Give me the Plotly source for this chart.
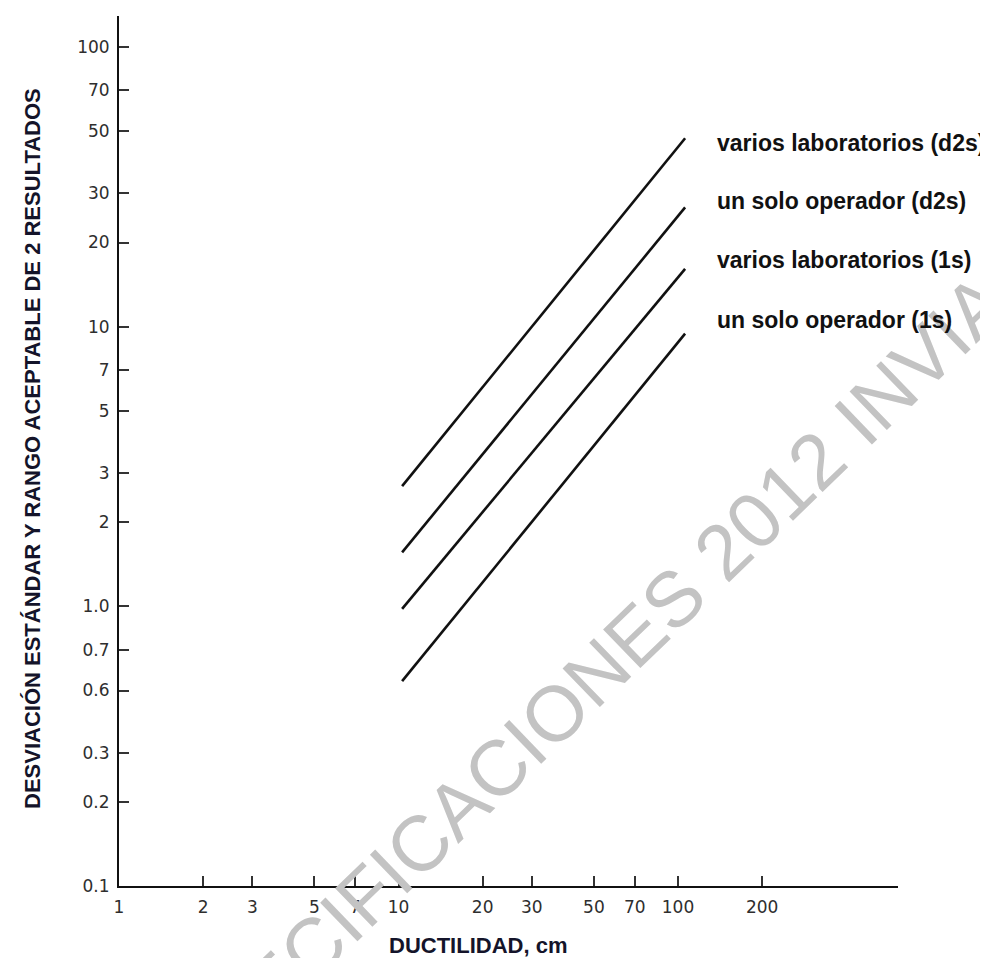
import plotly.graph_objects as go

# ---- data ----
series_names = ["varios laboratorios (d2s)", "un solo operador (d2s)",
                "varios laboratorios (1s)", "un solo operador (1s)"]
ductility = [10.3, 106]                      # cm (x of line ends)
line_vals_lab_d2s = [2.69, 47.2]
line_vals_op_d2s = [1.56, 26.7]
line_vals_lab_1s = [0.98, 16.1]
line_vals_op_1s = [0.54, 9.44]
series_values = [line_vals_lab_d2s, line_vals_op_d2s, line_vals_lab_1s, line_vals_op_1s]

x_tick_values = [1, 2, 3, 5, 7, 10, 20, 30, 50, 70, 100, 200]
x_tick_labels = ["1", "2", "3", "5", "7", "10", "20", "30", "50", "70", "100", "200"]
y_tick_values = [0.1, 0.2, 0.3, 0.5, 0.7, 1.0, 2, 3, 5, 7, 10, 20, 30, 50, 70, 100]
y_tick_labels = ["0.1", "0.2", "0.3", "0.6", "0.7", "1.0", "2", "3", "5", "7", "10",
                 "20", "30", "50", "70", "100"]

x_title = "DUCTILIDAD, cm"
y_title = "DESVIACIÓN ESTÁNDAR Y RANGO ACEPTABLE DE 2 RESULTADOS"
watermark = "ESPECIFICACIONES 2012 INVIAS"

fig = go.Figure()
for name, vals in zip(series_names, series_values):
    fig.add_trace(go.Scatter(x=ductility, y=vals, mode="lines", name=name,
                             line=dict(color="#111111", width=2.6), showlegend=False))

W, H = 988, 958
L, R, T, B = 111, 98, 8, 80
pw, ph = W - L - R, H - T - B

def px(xp):
    return (xp - L) / pw

def py(yp):
    return (H - B - yp) / ph

tick_font = dict(family="DejaVu Sans", size=17, color="#2e2e2e")
label_font = dict(family="Liberation Sans, Arial", size=23, color="#111111")
title_font = dict(family="Liberation Sans, Arial", size=22, color="#14142a")

annotations = [
    dict(text=watermark, xref="paper", yref="paper", x=px(579), y=py(674),
         xanchor="center", yanchor="middle", textangle=-44, showarrow=False,
         font=dict(family="Liberation Sans, Arial", size=78, color="#c3c3c3")),
]
label_y = [135, 193, 252, 312]
for name, yy in zip(series_names, label_y):
    annotations.append(dict(text="<b>%s</b>" % name, xref="paper", yref="paper",
                            x=px(707), y=py(yy), xanchor="left", yanchor="middle",
                            showarrow=False, font=label_font))
annotations.append(dict(text="<b>%s</b>" % y_title, xref="paper", yref="paper",
                        x=px(25), y=py(441), xanchor="center", yanchor="middle",
                        textangle=-90, showarrow=False, font=title_font))
annotations.append(dict(text="<b>%s</b>" % x_title, xref="paper", yref="paper",
                        x=px(470), y=py(938), xanchor="center", yanchor="middle",
                        showarrow=False, font=title_font))

fig.update_layout(
    width=W, height=H,
    margin=dict(l=L, r=R, t=T, b=B, pad=0),
    paper_bgcolor="white", plot_bgcolor="white",
    annotations=annotations,
    xaxis=dict(type="log", range=[0, 2.787], tickvals=x_tick_values, ticktext=x_tick_labels,
               showgrid=False, zeroline=False, showline=True, linecolor="#111111", linewidth=2,
               ticks="inside", ticklen=10, tickwidth=1.5, tickcolor="#333333",
               tickfont=tick_font, ticklabelstandoff=5),
    yaxis=dict(type="log", range=[-1, 2.111], tickvals=y_tick_values, ticktext=y_tick_labels,
               showgrid=False, zeroline=False, showline=True, linecolor="#111111", linewidth=2,
               ticks="inside", ticklen=10, tickwidth=1.5, tickcolor="#333333",
               tickfont=tick_font, ticklabelstandoff=4),
)

fig.write_html("out.html")
